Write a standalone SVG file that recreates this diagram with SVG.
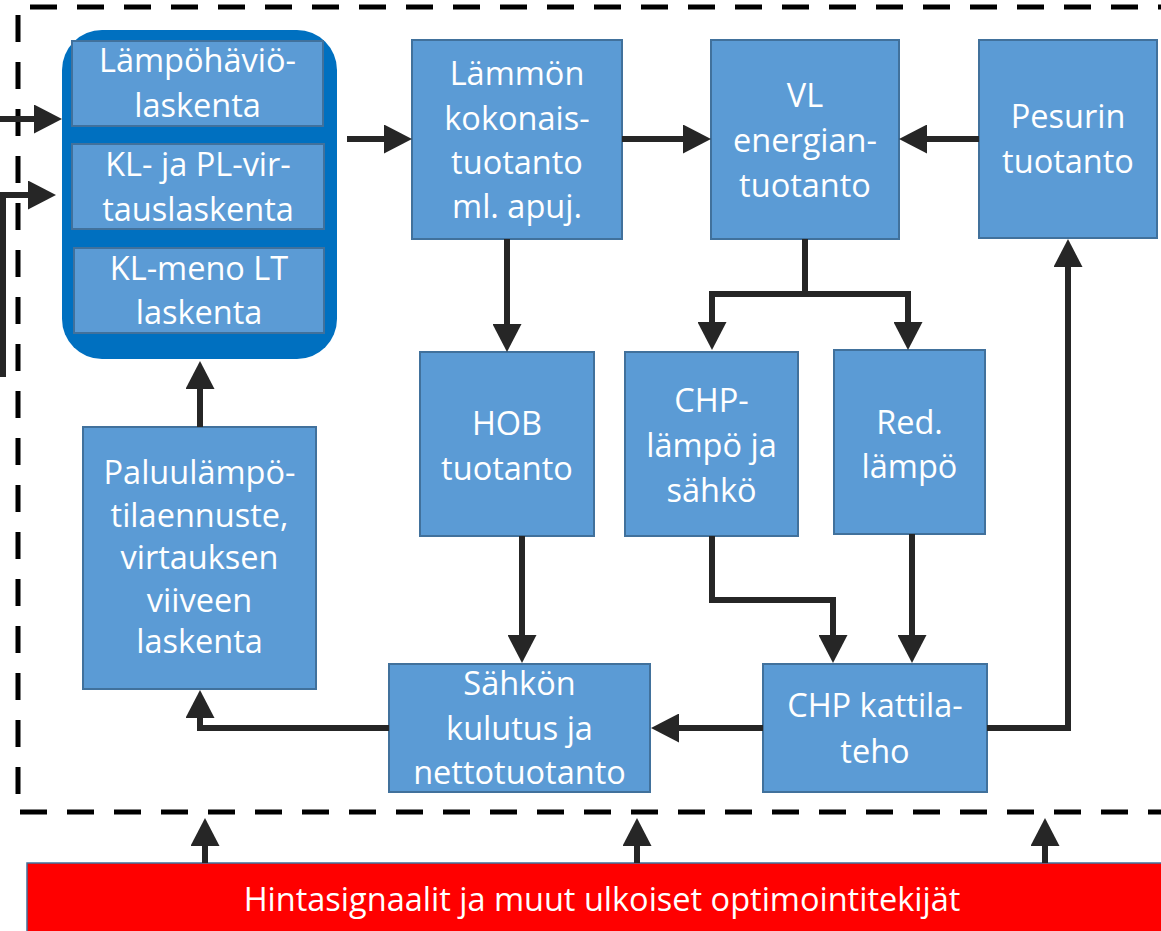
<svg xmlns="http://www.w3.org/2000/svg" width="1161" height="931" viewBox="0 0 1161 931">
<style>
.box{fill:#5B9BD5;stroke:#41719C;stroke-width:2}
.t{font-family:"Open Sans",Lato,sans-serif;font-size:32.5px;fill:#fff;text-anchor:middle;font-variant-ligatures:none}
.c{fill:none;stroke:#262626;stroke-width:6;stroke-linejoin:miter}
.dash{fill:none;stroke:#000;stroke-width:5;stroke-dasharray:27 20}
</style>
<defs>
<marker id="ah" markerUnits="userSpaceOnUse" markerWidth="28" markerHeight="29" refX="20" refY="14.5" orient="auto">
<path d="M0,0 L28,14.5 L0,29 z" fill="#262626"/>
</marker>
</defs>
<rect width="1161" height="931" fill="#fff"/>
<g id="border">
<path class="dash" d="M30,7 H1161"/>
<path class="dash" d="M18,15 V812 H1161"/>
</g>
<g id="container">
<rect x="62" y="30" width="275" height="329" rx="40" fill="#0070C0"/>
</g>
<g id="lampohavio">
<rect class="box" x="72" y="41" width="251" height="85"/>
<text class="t"><tspan x="197.5" y="72">Lämpöhäviö-</tspan><tspan x="197.5" y="117">laskenta</tspan></text>
</g>
<g id="virtaus">
<rect class="box" x="72" y="144" width="252" height="85"/>
<text class="t"><tspan x="198" y="176">KL- ja PL-vir-</tspan><tspan x="198" y="221">tauslaskenta</tspan></text>
</g>
<g id="klmeno">
<rect class="box" x="74" y="248" width="250" height="85"/>
<text class="t"><tspan x="199" y="280">KL-meno LT</tspan><tspan x="199" y="324">laskenta</tspan></text>
</g>
<g id="lammon">
<rect class="box" x="412" y="40" width="210" height="199"/>
<text class="t"><tspan x="517" y="85">Lämmön</tspan><tspan x="517" y="130">kokonais-</tspan><tspan x="517" y="174">tuotanto</tspan><tspan x="517" y="218">ml. apuj.</tspan></text>
</g>
<g id="vl">
<rect class="box" x="711" y="40" width="188" height="199"/>
<text class="t"><tspan x="805" y="107">VL</tspan><tspan x="805" y="152">energian-</tspan><tspan x="805" y="197">tuotanto</tspan></text>
</g>
<g id="pesuri">
<rect class="box" x="979" y="40" width="178" height="198"/>
<text class="t"><tspan x="1068" y="128">Pesurin</tspan><tspan x="1068" y="173">tuotanto</tspan></text>
</g>
<g id="hob">
<rect class="box" x="420" y="352" width="174" height="184"/>
<text class="t"><tspan x="507" y="435">HOB</tspan><tspan x="507" y="480">tuotanto</tspan></text>
</g>
<g id="chplampo">
<rect class="box" x="625" y="352" width="173" height="184"/>
<text class="t"><tspan x="711.5" y="412">CHP-</tspan><tspan x="711.5" y="457">lämpö ja</tspan><tspan x="711.5" y="502">sähkö</tspan></text>
</g>
<g id="red">
<rect class="box" x="834" y="350" width="151" height="184"/>
<text class="t"><tspan x="909.5" y="434">Red.</tspan><tspan x="909.5" y="478">lämpö</tspan></text>
</g>
<g id="paluu">
<rect class="box" x="83" y="427" width="233" height="262"/>
<text class="t"><tspan x="199.5" y="484">Paluulämpö-</tspan><tspan x="199.5" y="527">tilaennuste,</tspan><tspan x="199.5" y="569">virtauksen</tspan><tspan x="199.5" y="612">viiveen</tspan><tspan x="199.5" y="653">laskenta</tspan></text>
</g>
<g id="sahkon">
<rect class="box" x="389" y="664" width="261" height="128"/>
<text class="t"><tspan x="519.5" y="695">Sähkön</tspan><tspan x="519.5" y="740">kulutus ja</tspan><tspan x="519.5" y="784">nettotuotanto</tspan></text>
</g>
<g id="chpkattila">
<rect class="box" x="763" y="664" width="224" height="128"/>
<text class="t"><tspan x="875" y="717">CHP kattila-</tspan><tspan x="875" y="763">teho</tspan></text>
</g>
<g id="hinta">
<rect x="27" y="863" width="1140" height="80" fill="#FF0000" stroke="#41719C" stroke-width="1.5"/>
<text class="t" x="602" y="911">Hintasignaalit ja muut ulkoiset optimointitekijät</text>
</g>
<g id="connectors">
<path class="c" d="M0,119 H54" marker-end="url(#ah)"/>
<path class="c" d="M3,377 V195 H48" marker-end="url(#ah)"/>
<path class="c" d="M347,139 H404" marker-end="url(#ah)"/>
<path class="c" d="M622,139 H703" marker-end="url(#ah)"/>
<path class="c" d="M979,139 H907" marker-end="url(#ah)"/>
<path class="c" d="M507,239 V344" marker-end="url(#ah)"/>
<path class="c" d="M805,239 V294 H712 V342" marker-end="url(#ah)"/>
<path class="c" d="M805,294 H908 V342" marker-end="url(#ah)"/>
<path class="c" d="M522,536 V655" marker-end="url(#ah)"/>
<path class="c" d="M712,536 V600 H833 V655" marker-end="url(#ah)"/>
<path class="c" d="M912,534 V655" marker-end="url(#ah)"/>
<path class="c" d="M763,728 H659" marker-end="url(#ah)"/>
<path class="c" d="M987,728 H1068 V247" marker-end="url(#ah)"/>
<path class="c" d="M389,728 H200 V698" marker-end="url(#ah)"/>
<path class="c" d="M200,427 V369" marker-end="url(#ah)"/>
<path class="c" d="M205,863 V826" marker-end="url(#ah)"/>
<path class="c" d="M637,863 V826" marker-end="url(#ah)"/>
<path class="c" d="M1045,863 V826" marker-end="url(#ah)"/>
</g>
</svg>
